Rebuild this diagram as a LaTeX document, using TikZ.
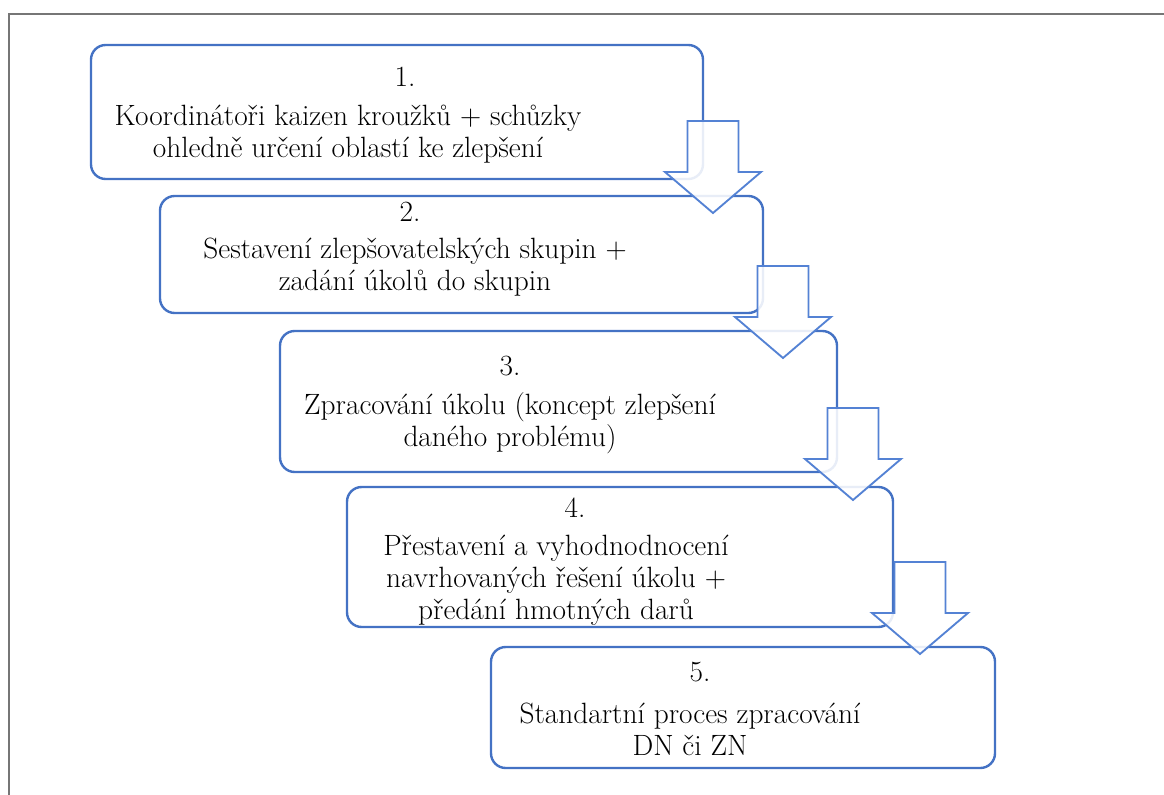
\documentclass[tikz,border=0pt]{standalone}
\usepackage{fontspec}
\definecolor{stepblue}{RGB}{68,114,196}
\definecolor{arrowblue}{RGB}{84,130,212}
\definecolor{framegray}{RGB}{118,118,118}

\begin{document}
\begin{tikzpicture}[
    x=0.75pt, y=-0.75pt,
    stepbox/.style={draw=stepblue, line width=1.8pt, fill=white, rounded corners=11pt, inner sep=0pt},
    steptext/.style={font=\rmfamily\fontsize{22}{24}\selectfont, align=center, inner sep=0pt},
    blockarrow/.style={draw=arrowblue, line width=1.4pt, fill=white, fill opacity=0.88}
]
    \useasboundingbox (0,0) rectangle (1164,795);

    % Frame
    \draw[framegray, line width=1.5pt] (1164,14) -- (9,14) -- (9,795);

    % Boxes
    \node[stepbox, minimum width=459pt, minimum height=100.5pt] (s1) at (397,112) {};
    \node[stepbox, minimum width=452.25pt, minimum height=87.75pt] (s2) at (461.5,254.5) {};
    \node[stepbox, minimum width=417.75pt, minimum height=105.75pt] (s3) at (558.5,401.5) {};
    \node[stepbox, minimum width=409.5pt, minimum height=105pt] (s4) at (620,557) {};
    \node[stepbox, minimum width=378pt, minimum height=90.75pt] (s5) at (743,707.5) {};

    % Numbers
    \node[steptext] (n1) at (405,77) {1.};
    \node[steptext] (n2) at (410,212) {2.};
    \node[steptext] (n3) at (510,366) {3.};
    \node[steptext] (n4) at (575,508) {4.};
    \node[steptext] (n5) at (700,672) {5.};

    % Texts
    \node[steptext] (t1) at (348,134) {Koordinátoři kaizen kroužků + schůzky\\ohledně určení oblastí ke zlepšení};
    \node[steptext] (t2) at (415,267.5) {Sestavení zlepšovatelských skupin +\\zadání úkolů do skupin};
    \node[steptext] (t3) at (510,423.5) {Zpracování úkolu (koncept zlepšení\\daného problému)};
    \node[steptext] (t4) at (556,580) {Přestavení a vyhodnodnocení\\navrhovaných řešení úkolu +\\předání hmotných darů};
    \node[steptext] (t5) at (690,729) {Standartní proces zpracování\\DN či ZN};

    % Block arrows between the steps
    \foreach \ax/\ay in {713/121, 783/266, 853/408, 920/562}
        \draw[blockarrow] (\ax,\ay) ++(-25.5,0) -- ++(51,0) -- ++(0,51) -- ++(22.5,0)
            -- ++(-48,41) -- ++(-48,-41) -- ++(22.5,0) -- cycle;
\end{tikzpicture}
\end{document}
